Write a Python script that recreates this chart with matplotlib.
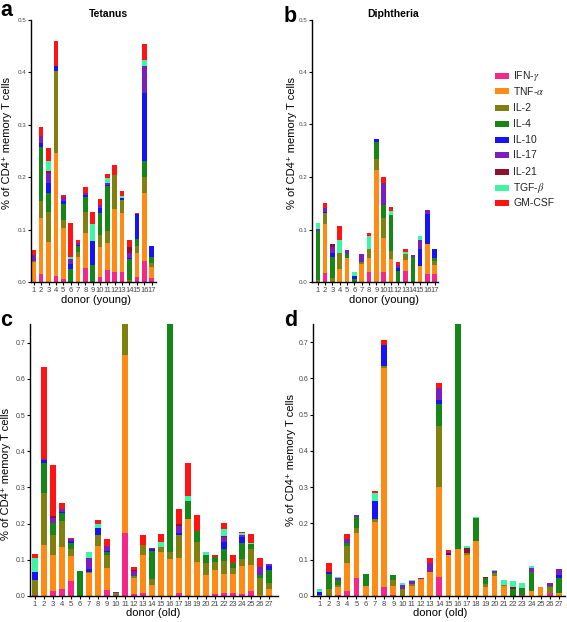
import numpy as np
import matplotlib
matplotlib.use("Agg")
import matplotlib.pyplot as plt
from matplotlib.patches import Rectangle

plt.rcParams['font.family'] = ['Liberation Sans', 'DejaVu Sans']
plt.rcParams['mathtext.fontset'] = 'stix'

cytokines = ['IFN-$\\gamma$', 'TNF-$\\alpha$', 'IL-2', 'IL-4', 'IL-10', 'IL-17', 'IL-21', 'TGF-$\\beta$', 'GM-CSF']
colors = ['#f5288a', '#ff8a14', '#80800f', '#168616', '#1414f5', '#7a1fbd', '#8e1030', '#3ff5a3', '#ff1414']

# rows = donors; columns = cytokines in order above
tetanus_young = [
    [0, .038, .003, 0, 0, .011, 0, 0, .009],
    [.016, .107, .032, .103, .007, .013, 0, 0, .017],
    [0, .077, .057, .036, .019, .019, .003, .020, .025],
    [.012, .234, .156, 0, .011, 0, 0, 0, .047],
    [.006, .098, .015, .030, .006, .007, 0, 0, .004],
    [0, 0, 0, .024, .010, .010, 0, .004, .065],
    [0, .047, .010, .011, .003, .003, 0, 0, .006],
    [.026, .067, .040, .030, .003, .003, 0, 0, .013],
    [0, 0, 0, .033, .045, 0, 0, .033, .023],
    [.009, .058, .022, .043, .009, .005, 0, 0, .013],
    [.023, .052, .022, .086, .002, .003, 0, .010, .008],
    [.020, .120, .065, 0, 0, 0, 0, 0, .019],
    [.020, .111, .026, 0, .003, 0, 0, .004, .009],
    [0, 0, .004, .039, .003, .010, .010, 0, .014],
    [.010, .045, .014, .013, .047, 0, 0, 0, .003],
    [.040, .129, .031, .031, .129, .053, 0, .010, .032],
    [.008, .020, .009, .010, .021, 0, 0, 0, 0],
]
diphtheria_young = [
    [0, 0, .004, .093, 0, .004, 0, .011, 0],
    [.018, .092, .022, 0, .002, .007, 0, 0, .010],
    [0, 0, .008, .039, .009, .010, .006, 0, 0],
    [0, .024, .031, 0, 0, 0, 0, .025, .026],
    [0, .045, 0, .009, 0, .006, 0, 0, 0],
    [0, 0, 0, .006, .006, 0, 0, .008, 0],
    [0, .034, .005, 0, 0, .015, 0, 0, 0],
    [.019, .027, .016, 0, 0, 0, 0, .026, .005],
    [0, .214, .021, .032, .005, 0, 0, 0, 0],
    [.020, .063, .039, .024, 0, .042, 0, 0, .012],
    [0, .044, .015, .068, 0, 0, 0, .008, .007],
    [0, 0, 0, .021, .005, .007, 0, 0, .006],
    [.021, .021, .011, 0, 0, 0, 0, .005, .004],
    [0, 0, 0, .048, 0, .004, 0, 0, 0],
    [0, .030, 0, 0, .032, .018, 0, .008, 0],
    [.016, .056, 0, 0, .058, .008, 0, 0, 0],
    [.016, .017, .007, .006, .016, 0, 0, 0, 0],
]
tetanus_old = [
    [.003, 0, .042, 0, .022, 0, 0, .038, .012],
    [0, .142, .144, .082, .007, .003, 0, 0, .256],
    [.015, .098, .055, .033, 0, .016, .005, 0, .140],
    [.020, .115, .071, .024, .003, .007, 0, 0, .018],
    [.042, .068, .021, .016, .004, .006, 0, 0, .004],
    [0, 0, 0, .068, 0, 0, 0, 0, 0],
    [0, .063, .004, 0, .008, .031, 0, .015, 0],
    [0, .137, .032, 0, .018, 0, 0, .013, .010],
    [.017, .060, .036, .008, .004, .014, 0, 0, .018],
    [0, 0, .008, 0, 0, .003, 0, 0, 0],
    [.175, .490, .150, 0, 0, 0, 0, 0, 0],
    [.006, .044, .005, 0, 0, .014, .003, 0, .007],
    [.008, .105, .027, 0, 0, 0, 0, 0, .028],
    [0, .030, .018, .076, .007, .003, 0, 0, 0],
    [0, .121, .015, 0, 0, 0, 0, .014, .022],
    [0, .101, .022, .700, 0, 0, 0, 0, 0],
    [.009, .095, .066, 0, .005, .018, .005, 0, .042],
    [0, .213, 0, .051, 0, 0, 0, .012, .093],
    [0, .093, .055, .033, 0, 0, 0, 0, .044],
    [0, .058, .033, .022, 0, 0, 0, .009, 0],
    [.006, .065, .022, .014, 0, 0, 0, 0, .005],
    [.008, .054, .035, .032, .019, .015, .004, .017, .017],
    [.008, .052, .017, .013, 0, 0, 0, 0, .024],
    [.006, .076, .019, .046, .016, .005, 0, .005, .003],
    [.015, .070, .045, .014, 0, 0, 0, .003, .024],
    [0, .003, .047, .007, 0, .024, 0, 0, .024],
    [0, .018, .019, .035, .011, .005, 0, 0, 0],
]
diphtheria_old = [
    [0, 0, .003, 0, .007, 0, 0, .010, 0],
    [0, 0, .020, .042, .004, 0, 0, 0, .024],
    [.004, .022, .004, .014, 0, .005, 0, .003, 0],
    [.015, .076, .046, .010, 0, .011, 0, 0, .014],
    [.050, .123, .014, .032, 0, .004, 0, 0, 0],
    [0, .027, 0, .034, 0, 0, 0, 0, 0],
    [0, .205, .006, 0, .051, 0, 0, .023, .004],
    [.024, .606, .004, 0, .058, 0, 0, 0, .014],
    [.004, .024, .017, .012, 0, 0, 0, 0, 0],
    [0, 0, .020, 0, 0, .011, 0, .006, 0],
    [0, .028, .006, 0, 0, .007, 0, .004, 0],
    [0, .046, 0, 0, 0, .003, 0, 0, 0],
    [0, .066, 0, 0, 0, .026, 0, 0, .014],
    [.052, .248, .170, .060, .011, .033, 0, 0, .012],
    [0, .114, 0, 0, .005, 0, 0, 0, .007],
    [0, .130, 0, .700, 0, 0, 0, 0, 0],
    [0, .114, .005, 0, 0, 0, .014, .006, 0],
    [0, .151, 0, .065, 0, 0, 0, .003, 0],
    [0, .026, .008, .015, 0, 0, .004, 0, 0],
    [0, .054, .010, 0, 0, .006, 0, .003, 0],
    [0, .027, .002, 0, 0, 0, 0, .014, 0],
    [0, 0, 0, .020, 0, 0, .006, .014, 0],
    [.002, 0, 0, .021, 0, 0, 0, .013, 0],
    [0, .013, 0, .054, 0, .011, 0, .004, 0],
    [0, .024, 0, 0, 0, 0, 0, 0, 0],
    [.008, 0, .018, .002, 0, .008, 0, 0, 0],
    [0, .008, 0, .043, .006, .017, 0, 0, 0],
]

W, H = 567, 622
fig = plt.figure(figsize=(W / 100, H / 100), dpi=100)


def px_axes(l, r, b, t):
    return fig.add_axes([l / W, 1 - b / H, (r - l) / W, (b - t) / H])


panels = [
    dict(data=tetanus_young, box=(31, 156, 282, 20), ylim=0.5, xlim=(0.62, 17.6),
         xlabel='donor (young)', ylab=(-0.155, 0.53), xlab=(0.52, -0.05), ytfs=4.5, xtfs=5.5),
    dict(data=diphtheria_young, box=(312, 438, 282, 19.5), ylim=0.5, xlim=(0.2, 17.45),
         xlabel='donor (young)', ylab=(-0.118, 0.53), xlab=(0.57, -0.05), ytfs=4.5, xtfs=5.5),
    dict(data=tetanus_old, box=(30, 278, 596, 324), ylim=0.752, xlim=(0.45, 28.0),
         xlabel='donor (old)', ylab=(-0.078, 0.45), xlab=(0.495, -0.045), ytfs=5, xtfs=5.5),
    dict(data=diphtheria_old, box=(313, 565, 596, 324), ylim=0.75, xlim=(0.28, 27.65),
         xlabel='donor (old)', ylab=(-0.066, 0.50), xlab=(0.503, -0.045), ytfs=5, xtfs=5.5),
]

for p in panels:
    l, r, b, t = p['box']
    ax = px_axes(l, r, b, t)
    arr = np.array(p['data'], dtype=float)
    n = arr.shape[0]
    x = np.arange(1, n + 1)
    bottom = np.zeros(n)
    for j in range(arr.shape[1]):
        ax.bar(x, arr[:, j], bottom=bottom, width=0.62, color=colors[j], linewidth=0)
        bottom += arr[:, j]
    ax.set_xlim(*p['xlim'])
    ax.set_ylim(0, p['ylim'])
    ax.set_yticks(np.arange(0, p['ylim'] + 1e-9, 0.1))
    ax.set_yticklabels(['%.1f' % v for v in np.arange(0, p['ylim'] + 1e-9, 0.1)])
    ax.set_xticks(x)
    ax.set_xticklabels([str(i) for i in x])
    for s in ['top', 'right']:
        ax.spines[s].set_visible(False)
    for s in ['left', 'bottom']:
        ax.spines[s].set_linewidth(1.0)
    ax.tick_params(axis='y', length=2.5, width=0.8, pad=1, labelsize=p['ytfs'], labelcolor='#444444')
    ax.tick_params(axis='x', length=2.5, width=0.8, pad=1, labelsize=p['xtfs'], labelcolor='#444444')
    ax.set_ylabel('% of CD4⁺ memory T cells', fontsize=8)
    ax.yaxis.set_label_coords(*p['ylab'])
    ax.set_xlabel(p['xlabel'], fontsize=8)
    ax.xaxis.set_label_coords(*p['xlab'])

# titles
fig.text(108 / W, 1 - 14 / H, 'Tetanus', ha='center', va='center', fontsize=7.5, fontweight='bold')
fig.text(393 / W, 1 - 14 / H, 'Diphtheria', ha='center', va='center', fontsize=7.5, fontweight='bold')

# panel letters
for lab, xx, yy in [('a', 0, 16), ('b', 284, 22), ('c', 0, 326), ('d', 284, 326)]:
    fig.text(xx / W, 1 - yy / H, lab, ha='left', va='baseline', fontsize=15.5, fontweight='bold')

# legend
leg_y = [76, 91, 108, 124, 140, 155, 172, 188, 203]
for j, (name, yy) in enumerate(zip(cytokines, leg_y)):
    fig.patches.append(Rectangle(((495) / W, 1 - (yy + 3) / H), 14 / W, 6 / H,
                                 transform=fig.transFigure, facecolor=colors[j],
                                 edgecolor='none', figure=fig))
    fig.text(513 / W, 1 - yy / H, name, ha='left', va='center', fontsize=7.5, color='#222222')

fig.savefig('out.png', dpi=100)
